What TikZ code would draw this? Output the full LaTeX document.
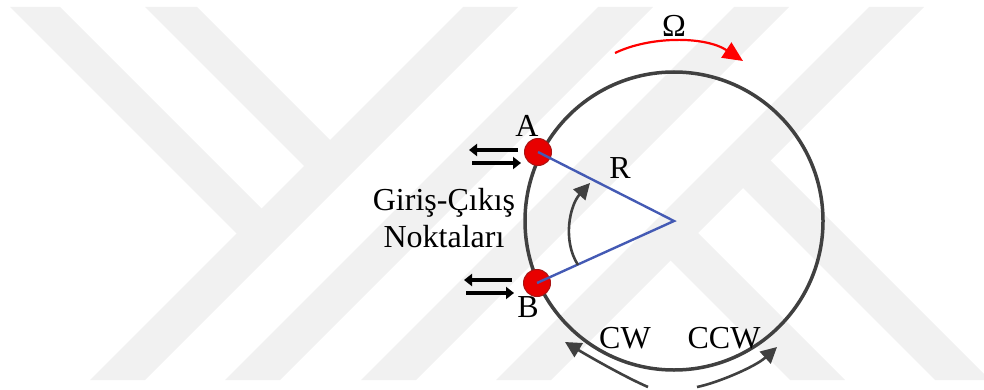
\documentclass[tikz,border=0pt]{standalone}
\usepackage{fontspec}
\setmainfont{Liberation Serif}
\usepackage{xcolor}
\usepackage{tikz}
\usetikzlibrary{arrows.meta, positioning, calc}
\definecolor{ringgray}{RGB}{64, 64, 64}
\definecolor{portred}{RGB}{232, 0, 0}
\definecolor{portedge}{RGB}{170, 20, 20}
\definecolor{radiusblue}{RGB}{68, 90, 180}
\definecolor{markgray}{RGB}{241, 241, 241}
\tikzstyle{ring} = [circle, draw=ringgray, line width=1.75pt, minimum size=149pt, inner sep=0pt]
\tikzstyle{port} = [circle, draw=portedge, fill=portred, minimum size=13.5pt, inner sep=0pt, line width=0.5pt]
\tikzstyle{lbl} = [font=\fontsize{16}{18.5}\selectfont, inner sep=0pt, anchor=base]
\tikzstyle{radline} = [draw=radiusblue, line width=1.2pt]
\tikzstyle{flow} = [-{Triangle[length=8pt, width=8pt]}, line width=1.3pt, draw=ringgray]
\tikzstyle{spin} = [-{Triangle[length=10pt, width=9pt]}, line width=1.1pt, draw=red]
\tikzstyle{io} = [-{Triangle[length=4pt, width=6pt]}, line width=2.2pt, draw=black]
\tikzstyle{band} = [fill=markgray, draw=none]

\begin{document}
\begin{tikzpicture}[x=0.5pt, y=-0.5pt]
    \useasboundingbox (0,0) rectangle (984,390);

    % Watermark
    \begin{scope}
        \clip (0,0) rectangle (984,390);
        \fill[band] (463,7) -- (518,7) -- (145,380) -- (90,380) -- cycle;
        \fill[band] (598,7) -- (653,7) -- (280,380) -- (225,380) -- cycle;
        \fill[band] (734,7) -- (789,7) -- (416,380) -- (361,380) -- cycle;
        \fill[band] (869,7) -- (924,7) -- (551,380) -- (496,380) -- cycle;
        \fill[band] (10,7) -- (60,7) -- (276.5,223.5) -- (251.5,248.5) -- cycle;
        \fill[band] (145,7) -- (197,7) -- (345,155) -- (319,181) -- cycle;
        \fill[band] (755,145) -- (990,380) -- (935,380) -- (727.5,172.5) -- cycle;
        \fill[band] (682.5,217.5) -- (845,380) -- (790,380) -- (655,245) -- cycle;
    \end{scope}

    % Ring
    \node[ring] (ring) at (674,221) {};

    % Input-output points
    \node[port] (a) at (538,152) {};
    \node[port] (b) at (537,283) {};

    % Radius
    \draw[radline] (a.center) -- (ring.center) -- (b.center);

    % Angle between points
    \coordinate (th0) at (578,265);
    \coordinate (th1) at (590,183);
    \draw[flow] (th0) .. controls (562,240) and (570,205) .. (th1);

    % Double arrows
    \coordinate (a1l) at (469,150);
    \coordinate (a1r) at (518,150);
    \coordinate (a2l) at (472,163);
    \coordinate (a2r) at (521,163);
    \coordinate (b1l) at (464,280);
    \coordinate (b1r) at (512,280);
    \coordinate (b2l) at (466,293);
    \coordinate (b2r) at (514,293);
    \draw[io] (a1r) -- (a1l);
    \draw[io] (a2l) -- (a2r);
    \draw[io] (b1r) -- (b1l);
    \draw[io] (b2l) -- (b2r);

    % Rotation
    \coordinate (w0) at (615,53);
    \coordinate (w1) at (743,61);
    \draw[spin] (w0) .. controls (650,36) and (705,36) .. (w1);

    % Propagation directions
    \coordinate (cw0) at (648,387);
    \coordinate (cw1) at (565,342);
    \coordinate (ccw0) at (697,387);
    \coordinate (ccw1) at (777,347);
    \draw[flow] (cw0) .. controls (625,377) and (590,357) .. (cw1);
    \draw[flow] (ccw0) .. controls (717,383) and (755,367) .. (ccw1);

    % Labels
    \node[lbl] (la) at (527,136) {A};
    \node[lbl] (lb) at (528,317) {B};
    \node[lbl] (lr) at (620,178) {R};
    \node[lbl] (lw) at (674,37) {Ω};
    \node[lbl] (lcw) at (625,348) {CW};
    \node[lbl] (lccw) at (724,348) {CCW};
    \node[lbl, align=center, anchor=north] (lio) at (444,188) {Giriş-Çıkış\\Noktaları};
\end{tikzpicture}
\end{document}
